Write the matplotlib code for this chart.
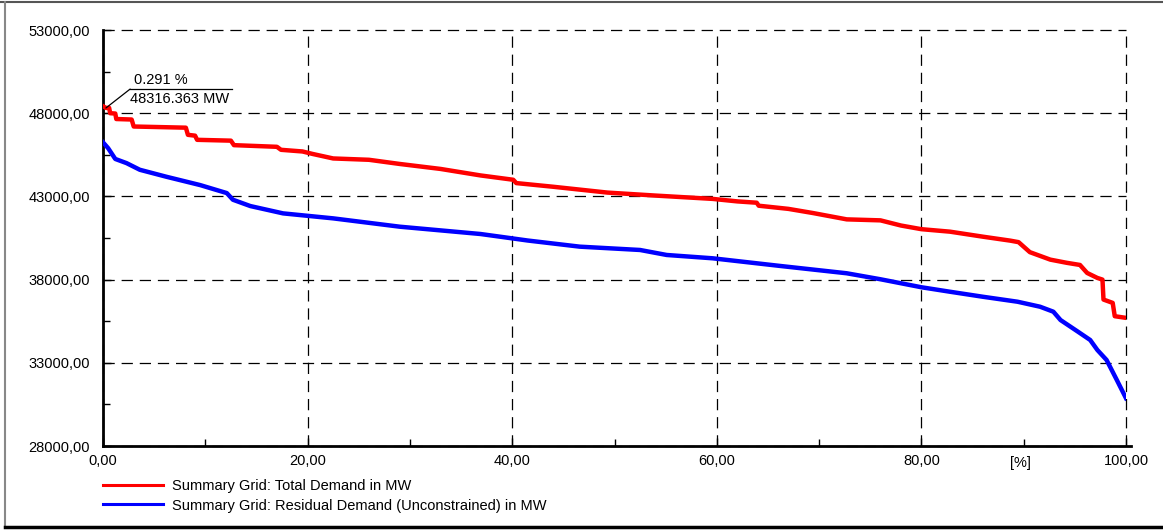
import matplotlib
matplotlib.use("Agg")
import matplotlib.pyplot as plt
from matplotlib.lines import Line2D
from matplotlib.ticker import MultipleLocator, FixedLocator, FuncFormatter

plt.rcParams['font.family'] = ['Liberation Sans', 'DejaVu Sans']

# ---- data (duration curves, % of time vs MW) ----
total_pct = [0.0, 0.29, 0.6, 0.7, 1.2, 1.3, 2.8, 3.0, 8.1, 8.3, 9.0, 9.2, 12.5, 12.8, 17.0, 17.4,
             19.5, 20.5, 22.5, 26.0, 29.0, 33.0, 36.9, 40.1, 40.4, 44.0, 49.3, 54.0, 59.6, 62.0,
             63.9, 64.1, 67.0, 69.4, 72.7, 76.0, 78.0, 80.0, 82.8, 86.0, 88.7, 89.5, 90.6, 92.6,
             94.2, 95.5, 96.2, 97.2, 97.7, 97.8, 98.7, 98.9, 100.0]
total_mw = [48420, 48316, 48320, 48000, 47980, 47650, 47620, 47200, 47130, 46700, 46650, 46400,
            46350, 46080, 45980, 45800, 45700, 45550, 45280, 45200, 44950, 44650, 44260, 44000,
            43800, 43580, 43230, 43050, 42850, 42700, 42620, 42440, 42250, 42000, 41620, 41560,
            41250, 41030, 40880, 40580, 40340, 40250, 39650, 39200, 39010, 38880, 38400, 38100,
            38000, 36800, 36600, 35800, 35700]

resid_pct = [0.0, 0.5, 1.2, 2.3, 3.6, 6.2, 9.5, 12.1, 12.7, 14.4, 17.6, 22.5, 29.0, 36.9, 38.8,
             41.5, 46.6, 52.5, 55.1, 59.6, 66.2, 72.7, 76.0, 80.0, 82.8, 86.0, 89.4, 91.6, 92.9,
             93.6, 95.3, 96.5, 97.2, 98.1, 99.1, 100.0]
resid_mw = [46250, 45900, 45250, 45000, 44600, 44180, 43680, 43200, 42800, 42420, 41980, 41680,
            41180, 40740, 40580, 40350, 39980, 39780, 39480, 39280, 38820, 38380, 38020, 37540,
            37270, 36970, 36670, 36370, 36070, 35570, 34870, 34370, 33770, 33170, 31970, 30870]

y_ticks = [28000, 33000, 38000, 43000, 48000, 53000]
y_minor = [30500, 35500, 40500, 45500, 50500]
x_ticks = [0, 20, 40, 60, 80, 100]

series_labels = ["Summary Grid: Total Demand in MW",
                 "Summary Grid: Residual Demand (Unconstrained) in MW"]
annot_pct = 0.291
annot_mw = 48316.363

FS = 10.5

fig = plt.figure(figsize=(11.63, 5.30), dpi=100)
ax = fig.add_axes([103 / 1163, 1 - 446 / 530, (1126 - 103) / 1163, (446 - 30) / 530])

ax.plot(total_pct, total_mw, color='#ff0000', lw=3.2, zorder=3)
ax.plot(resid_pct, resid_mw, color='#0000ff', lw=3.2, zorder=3)

ax.set_xlim(0, 100)
ax.set_ylim(28000, 53000)
ax.xaxis.set_major_locator(FixedLocator(x_ticks))
ax.xaxis.set_minor_locator(MultipleLocator(10))
ax.yaxis.set_major_locator(FixedLocator(y_ticks))
ax.yaxis.set_minor_locator(FixedLocator(y_minor))
fmt = FuncFormatter(lambda v, p: f"{v:.2f}".replace('.', ','))
ax.xaxis.set_major_formatter(fmt)
ax.yaxis.set_major_formatter(fmt)
ax.tick_params(which='both', direction='in', labelsize=FS, width=1, color='black')
ax.tick_params(which='major', length=6, pad=6)
ax.tick_params(which='minor', length=5)
ax.tick_params(axis='y', which='major', pad=9.5)

ax.grid(True, which='major', color='black', lw=0.9, linestyle=(0, (9, 5.5)))
for gl in ax.get_xgridlines() + ax.get_ygridlines():
    gl.set_clip_on(False)
for s in ['top', 'right']:
    ax.spines[s].set_visible(False)
for s in ['left', 'bottom']:
    ax.spines[s].set_linewidth(2)
ax.spines['bottom'].set_bounds(0, 100.5)
ax.set_axisbelow(True)

# "[%]" unit label
ax.text(0.897, -10 / 416, "[%]", transform=ax.transAxes, ha='center', va='top', fontsize=FS)

# annotation
ax.annotate("", xy=(annot_pct, annot_mw), xytext=(2.65, 49450),
            arrowprops=dict(arrowstyle='-', color='black', lw=0.9, shrinkA=0, shrinkB=0))
ax.plot([2.65, 12.6], [49450, 49450], color='black', lw=0.9, clip_on=False)
ax.text(3.0, 49600, f"{annot_pct:.3f} %", fontsize=FS, ha='left', va='bottom')
ax.text(2.65, 49300, f"{annot_mw:.3f} MW", fontsize=FS, ha='left', va='top')

# legend
handles = [Line2D([], [], color='#ff0000', lw=2.2), Line2D([], [], color='#0000ff', lw=2.2)]
fig.legend(handles, series_labels, loc='upper left', bbox_to_anchor=(103 / 1163, 1 - 479 / 530),
           frameon=False, fontsize=FS, handlelength=4.1, handletextpad=0.6, labelspacing=0.38,
           borderpad=0, borderaxespad=0)

# outer frame
fig.add_artist(Line2D([0, 1], [1 - 2 / 530] * 2, color='#555555', lw=1.5, transform=fig.transFigure))
fig.add_artist(Line2D([4.5 / 1163] * 2, [1 - 2 / 530, 1 - 527 / 530], color='#888888', lw=1.5,
                      transform=fig.transFigure))
fig.add_artist(Line2D([4.5 / 1163, 1], [1 - 527 / 530] * 2, color='black', lw=2.5,
                      transform=fig.transFigure))

fig.savefig("out.png", dpi=100)
